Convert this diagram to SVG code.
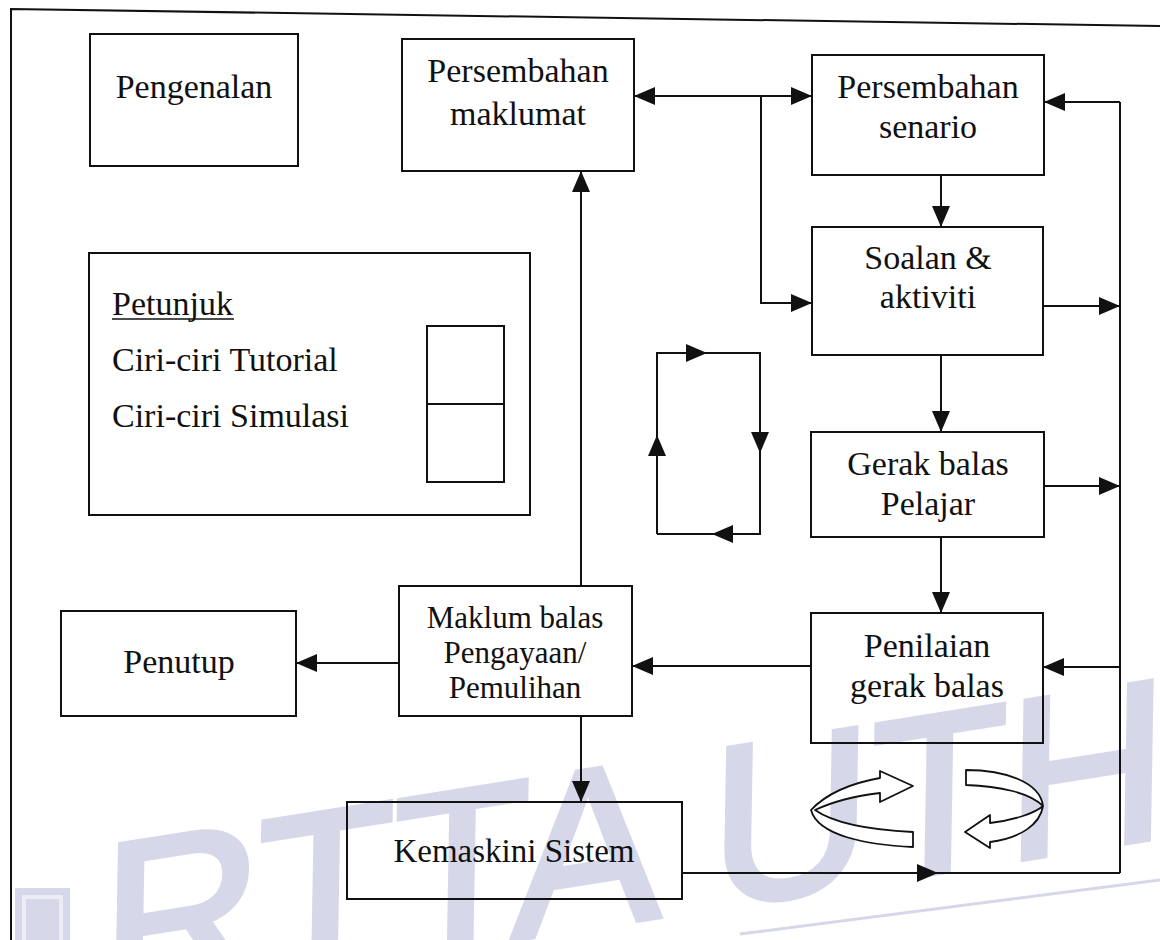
<svg xmlns="http://www.w3.org/2000/svg" width="1160" height="940" viewBox="0 0 1160 940">
<style>
.box{fill:none;stroke:#111;stroke-width:2}
.t{font-family:"Liberation Serif","Times New Roman",serif;font-size:34px;fill:#111;text-anchor:middle}
.tl{font-family:"Liberation Serif","Times New Roman",serif;font-size:34px;fill:#111}
.c{fill:none;stroke:#111;stroke-width:2}
.wm{font-family:"Liberation Sans",Arial,sans-serif;fill:#d7d7ea;stroke:#d7d7ea;stroke-width:6}
</style>
<defs>
<marker id="ah" markerUnits="userSpaceOnUse" markerWidth="22" markerHeight="20" refX="21" refY="10" orient="auto"><path d="M0,1 L21,10 L0,19 z" fill="#111"/></marker>
<marker id="ah2" markerUnits="userSpaceOnUse" markerWidth="22" markerHeight="20" refX="21" refY="10" orient="auto-start-reverse"><path d="M0,1 L21,10 L0,19 z" fill="#111"/></marker>
</defs>
<rect width="1160" height="940" fill="#fff"/>
<g id="watermark">
<rect x="15" y="888" width="55" height="60" fill="#d7d7ea"/>
<rect x="24" y="897" width="37" height="50" fill="none" stroke="#ececf5" stroke-width="4"/>
<text class="wm" x="0" y="0" font-size="225" transform="translate(100 1005) rotate(-9) skewX(-10)">RTTA UTHM</text>
<line x1="740" y1="934" x2="1160" y2="880" stroke="#d7d7ea" stroke-width="3"/>
</g>
<polyline points="11,940 11,9 1160,26" fill="none" stroke="#111" stroke-width="2"/>
<g id="pengenalan"><rect class="box" x="90" y="34" width="208" height="132"/><text class="t" x="194" y="98">Pengenalan</text></g>
<g id="persembahan-maklumat"><rect class="box" x="402" y="39" width="232" height="132"/><text class="t" x="518" y="82">Persembahan</text><text class="t" x="518" y="125">maklumat</text></g>
<g id="persembahan-senario"><rect class="box" x="812" y="55" width="232" height="120"/><text class="t" x="928" y="98">Persembahan</text><text class="t" x="928" y="138">senario</text></g>
<g id="soalan"><rect class="box" x="812" y="227" width="231" height="128"/><text class="t" x="928" y="269">Soalan &amp;</text><text class="t" x="928" y="308">aktiviti</text></g>
<g id="gerak-balas"><rect class="box" x="811" y="432" width="233" height="105"/><text class="t" x="928" y="475">Gerak balas</text><text class="t" x="928" y="515">Pelajar</text></g>
<g id="penilaian"><rect class="box" x="811" y="613" width="232" height="130"/><text class="t" x="927" y="657">Penilaian</text><text class="t" x="927" y="697">gerak balas</text></g>
<g id="maklum-balas"><rect class="box" x="399" y="586" width="233" height="130"/><text class="t" x="515" y="628" style="font-size:31px">Maklum balas</text><text class="t" x="515" y="663" style="font-size:31px">Pengayaan/</text><text class="t" x="515" y="698" style="font-size:31px">Pemulihan</text></g>
<g id="penutup"><rect class="box" x="61" y="611" width="235" height="105"/><text class="t" x="179" y="673">Penutup</text></g>
<g id="kemaskini"><rect class="box" x="347" y="802" width="335" height="97"/><text class="t" x="514" y="862" style="font-size:33px">Kemaskini Sistem</text></g>
<g id="petunjuk"><rect class="box" x="89" y="253" width="441" height="262"/>
<text class="tl" x="112" y="315">Petunjuk</text><line x1="112" y1="319" x2="234" y2="319" stroke="#111" stroke-width="1.5"/>
<text class="tl" x="112" y="371">Ciri-ciri Tutorial</text>
<text class="tl" x="112" y="427">Ciri-ciri Simulasi</text>
<rect class="box" x="427" y="326" width="77" height="156"/><line x1="427" y1="404" x2="504" y2="404" stroke="#111" stroke-width="2"/>
</g>
<g id="connectors">
<path class="c" d="M634,96 H812" marker-start="url(#ah2)" marker-end="url(#ah2)"/>
<path class="c" d="M761,96 V303 H812" marker-end="url(#ah)"/>
<path class="c" d="M1120,102 V873"/>
<path class="c" d="M1120,102 H1044" marker-end="url(#ah)"/>
<path class="c" d="M1043,306 H1120" marker-end="url(#ah)"/>
<path class="c" d="M1044,486 H1120" marker-end="url(#ah)"/>
<path class="c" d="M1120,667 H1043" marker-end="url(#ah)"/>
<path class="c" d="M811,666 H632" marker-end="url(#ah)"/>
<path class="c" d="M399,663 H296" marker-end="url(#ah)"/>
<path class="c" d="M581,716 V802" marker-end="url(#ah)"/>
<path class="c" d="M581,586 V171" marker-end="url(#ah)"/>
<path class="c" d="M941,175 V227" marker-end="url(#ah)"/>
<path class="c" d="M941,355 V432" marker-end="url(#ah)"/>
<path class="c" d="M941,537 V613" marker-end="url(#ah)"/>
<path class="c" d="M682,873 H938" marker-end="url(#ah)"/>
<path class="c" d="M938,873 H1120"/>
<path class="c" d="M657,534 V435" marker-end="url(#ah)"/>
<path class="c" d="M657,435 V353 H707" marker-end="url(#ah)"/>
<path class="c" d="M707,353 H760 V453" marker-end="url(#ah)"/>
<path class="c" d="M760,453 V534 H712" marker-end="url(#ah)"/>
<path class="c" d="M712,534 H657"/>
</g>
<g id="rotate-icon" fill="#fff" stroke="#111" stroke-width="1.8" stroke-linejoin="round">
<path d="M811,810 C828,792 852,783 880,778 L880,771 L913,786 L880,802 L880,793 C855,796 832,802 815,810 C835,824 872,830 913,832 L913,847 C868,845 818,836 811,810 Z"/>
<path d="M966,770 C1005,770 1040,782 1043,806 C1040,825 1020,838 990,842 L990,848 L965,832 L990,815 L990,823 C1015,820 1035,813 1043,806 C1030,793 1000,786 966,785 Z"/>
</g>
</svg>
